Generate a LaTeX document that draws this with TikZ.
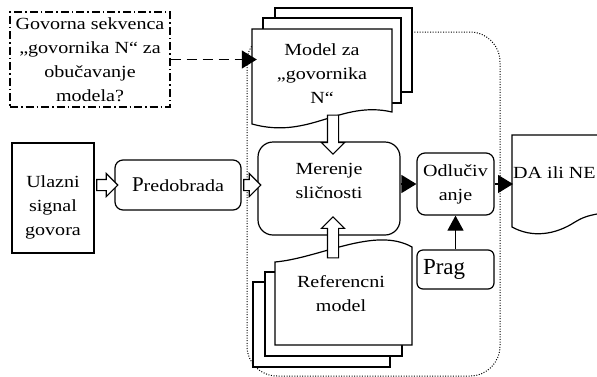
\documentclass[tikz,border=0pt]{standalone}
\usepackage{fontspec}
\setmainfont{Liberation Serif}[FakeStretch=1.18]
\newfontfamily\plainfont{Liberation Serif}
\usetikzlibrary{arrows.meta,shapes.arrows,calc}

\tikzset{
  every node/.style={font=\fontsize{17}{24}\selectfont, align=center},
  box/.style={draw, line width=1.2pt, fill=white, rounded corners=8pt, inner sep=0pt},
  page/.style={draw, line width=1.2pt, fill=white},
  hollow/.style={single arrow, draw, fill=white, line width=1.1pt, inner xsep=0pt,
                 inner ysep=5pt, single arrow head extend=6pt},
  tip/.style={line width=1.2pt, -{Triangle[length=15pt,width=18pt]}},
}

\begin{document}
\begin{tikzpicture}[x=1pt,y=1pt]
  \useasboundingbox (0,0) rectangle (597,-376);

  % okvir sistema
  \draw[dash pattern=on 1pt off 1.6pt, line width=1pt, rounded corners=30pt]
    (247,-32) rectangle (500,-376);

  % modeli govornika
  \draw[page] (275,-8) rectangle (412,-92);
  \draw[page] (263,-18) rectangle (401,-103);
  \draw[page] (252,-29) -- (392,-29) -- (392,-112)
    .. controls (340,-100) and (310,-140) .. (252,-124) -- cycle;
  \node[minimum width=140pt, inner sep=0pt] (model) at (322,-73.2) {Model za\\„govornika\\N“};

  \draw[page] (253,-282) rectangle (390,-367);
  \draw[page] (265,-272) rectangle (402,-356);
  \draw[page] (275,-345) -- (275,-262)
    .. controls (320,-258) and (375,-226) .. (412,-247) -- (412,-345) -- cycle;
  \node[inner sep=0pt] (refmod) at (341,-293.7) {Referencni\\model};

  \draw[page] (512,-135) -- (650,-135) -- (650,-210)
    .. controls (600,-212) and (588,-214) .. (575,-222)
    .. controls (555,-235) and (532,-238) .. (512,-227) -- cycle;
  \node[anchor=base west, inner sep=0pt] (odluka) at (513,-178) {DA ili NE};

  % blokovi
  \node[draw, dash pattern=on 8pt off 3pt on 1.5pt off 3pt, line width=1.2pt,
        minimum width=160pt, minimum height=95pt, inner sep=0pt, text depth=0pt]
        (sekv) at (90,-59.5) {Govorna sekvenca\\„govornika N“ za\\obučavanje\\modela?};
  \node[page, minimum width=82pt, minimum height=110pt] (ulaz) at (53,-198) {};
  \node[inner sep=0pt] (ulaztxt) at (53,-207.5) {Ulazni\\signal\\govora};
  \node[box, minimum width=126pt, minimum height=50pt] (pred) at (178,-185)
    {{\plainfont\fontsize{21}{21}\selectfont P}redobrada};
  \node[box, rounded corners=15pt, minimum width=142pt, minimum height=93pt] (meren) at (329,-188.5) {};
  \node[inner sep=0pt] (merentxt) at (329,-180.7) {Merenje\\sličnosti};
  \node[box, minimum width=77pt, minimum height=62pt] (odluc) at (455.5,-184) {Odlučiv\\anje};
  \node[box, rounded corners=6pt, minimum height=39pt, text width=65pt, inner xsep=6pt, align=left]
    (prag) at (455.5,-269.5) {\plainfont\fontsize{23}{23}\selectfont Prag};

  % veze
  \draw[line width=1.2pt, dash pattern=on 10pt off 6pt, shorten >=-5pt,
        -{Triangle[length=15pt,width=18pt]}] (sekv.east) -- (sekv.east -| model.west);
  \node[hollow, minimum height=21pt] (s1) at ($(ulaz.east |- pred.west)!.5!(pred.west)$) {};
  \node[hollow, minimum height=17pt] (s2) at ($(pred.east)!.5!(pred.east -| meren.west)$) {};
  \node[hollow, minimum height=39pt, rotate=-90] (s3) at ($(meren.north)+(4,9.5)$) {};
  \node[hollow, minimum height=41pt, rotate=90] (s4) at ($(meren.south)+(4,-4.5)$) {};
  \draw[tip] (odluc.west -| meren.east) -- (odluc.west);
  \draw[tip] (odluc.east) -- (odluc.east -| odluka.west);
  \draw[line width=1.2pt, -{Triangle[length=15pt,width=16pt]}] (prag) -- (odluc);
\end{tikzpicture}
\end{document}
